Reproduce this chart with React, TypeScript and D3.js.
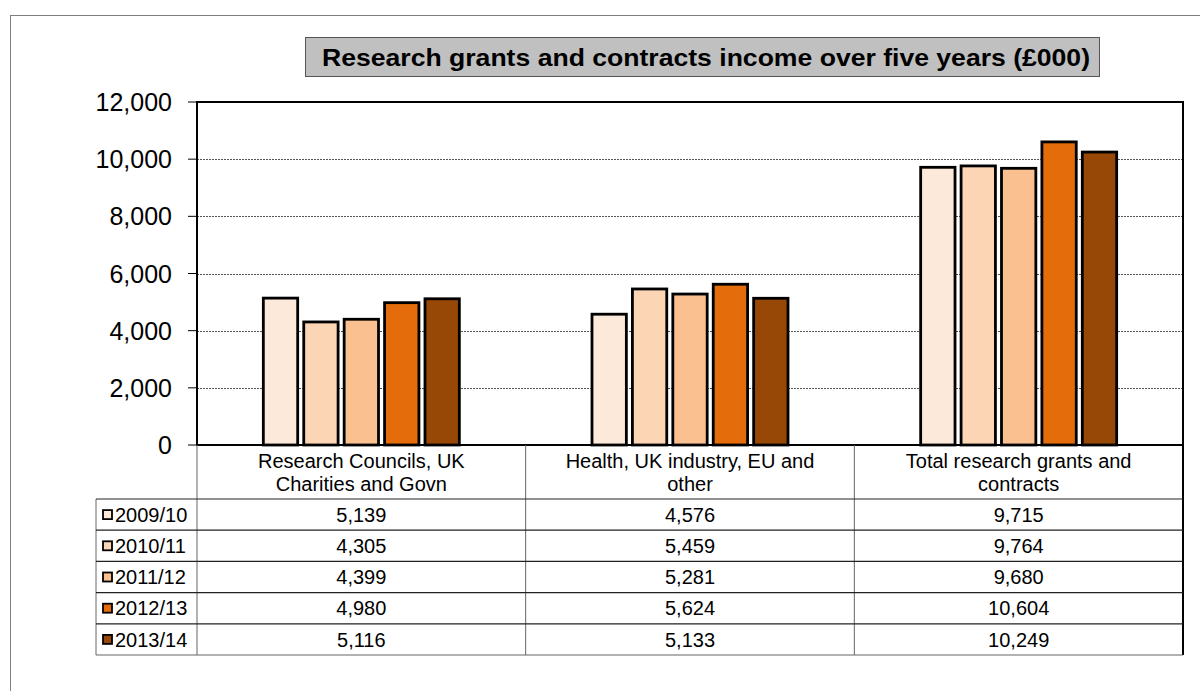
import React from "react";
import * as d3 from "d3";

const categories = [
  ["Research Councils, UK", "Charities and Govn"],
  ["Health, UK industry, EU and", "other"],
  ["Total research grants and", "contracts"],
];
const categoryKeys = ["rc", "health", "total"];
const seriesNames = ["2009/10", "2010/11", "2011/12", "2012/13", "2013/14"];
const seriesColors = ["#FDE9D9", "#FCD5B4", "#FAC090", "#E46C0A", "#974706"];
const values = [
  [5139, 4576, 9715],
  [4305, 5459, 9764],
  [4399, 5281, 9680],
  [4980, 5624, 10604],
  [5116, 5133, 10249],
];
const yTicks = [0, 2000, 4000, 6000, 8000, 10000, 12000];
const title = "Research grants and contracts income over five years (£000)";

const FONT = "'Liberation Sans', Arial, Helvetica, sans-serif";

export default function App() {
  const W = 1200, H = 691;
  const plotL = 197, plotR = 1183, plotT = 102, plotB = 445;
  const tableL = 96;
  const headerB = 499;
  const rowH = 31.2;

  const y = d3.scaleLinear().domain([0, 12000]).range([plotB, plotT]);
  const x = d3.scaleBand<string>().domain(categoryKeys).range([plotL, plotR]).padding(0);
  const fmt = d3.format(",");

  const groupW = 196;

  return (
    <div style={{ position: "absolute", left: 0, top: 0 }}>
      <svg width={W} height={H} style={{ display: "block", background: "#fff" }} fontFamily={FONT}>
        {/* outer frame */}
        <rect x={10.5} y={15.5} width={1200} height={700} fill="none" stroke="#7f7f7f" strokeWidth={1} />

        {/* title */}
        <rect x={305.5} y={37.5} width={794} height={39} fill="#C0C0C0" stroke="#555" strokeWidth={1} />
        <text x={706} y={66} textAnchor="middle" fontWeight="bold" fontSize={24}
          textLength={768} lengthAdjust="spacingAndGlyphs" fill="#000">{title}</text>

        {/* gridlines */}
        {yTicks.filter(t => t > 0 && t < 12000).map(t => (
          <line key={"g" + t} x1={plotL} x2={plotR} y1={Math.round(y(t)) + 0.5} y2={Math.round(y(t)) + 0.5}
            stroke="#555" strokeWidth={1} strokeDasharray="2,1" />
        ))}

        {/* bars */}
        {seriesNames.map((s, si) => (
          <g key={s}>
            {categoryKeys.map((c, ci) => {
              const cx = (x(c) as number) + x.bandwidth() / 2;
              const xs = d3.scaleBand<string>().domain(seriesNames)
                .range([cx - groupW / 2, cx + groupW / 2]).paddingInner(0.15).paddingOuter(0);
              const v = values[si][ci];
              return (
                <rect key={c} x={xs(s)} y={y(v)} width={xs.bandwidth()} height={y(0) - y(v)}
                  fill={seriesColors[si]} stroke="#000" strokeWidth={2.8} />
              );
            })}
          </g>
        ))}

        {/* plot border */}
        <rect x={plotL} y={plotT} width={plotR - plotL} height={plotB - plotT} fill="none" stroke="#000" strokeWidth={2} />

        {/* y ticks */}
        {yTicks.map(t => (
          <g key={"t" + t}>
            <line x1={188} x2={plotL} y1={y(t)} y2={y(t)} stroke="#000" strokeWidth={1} />
            <text x={172} y={y(t)} dy="0.36em" textAnchor="end" fontSize={25} fill="#000">{fmt(t)}</text>
          </g>
        ))}

        {/* data table */}
        {[...categoryKeys.map(c => x(c) as number), plotR].map((xx, i) => (
          <line key={"v" + i} x1={xx} x2={xx} y1={plotB} y2={headerB + rowH * 5}
            stroke={i === 3 ? "#000" : "#666"} strokeWidth={i === 3 ? 2 : 1} />
        ))}
        <line x1={tableL} x2={tableL} y1={headerB} y2={headerB + rowH * 5} stroke="#666" strokeWidth={1} />
        {d3.range(6).map(i => (
          <line key={"h" + i} x1={tableL} x2={plotR} y1={headerB + i * rowH} y2={headerB + i * rowH}
            stroke={i === 5 ? "#666" : "#222"} strokeWidth={1.2} />
        ))}
        {categories.map((lines, ci) => {
          const cx = (x(categoryKeys[ci]) as number) + x.bandwidth() / 2;
          return (
            <text key={"c" + ci} textAnchor="middle" fontSize={20} fill="#000">
              {lines.map((l, li) => (
                <tspan key={li} x={cx} y={468 + li * 23}>{l}</tspan>
              ))}
            </text>
          );
        })}
        {seriesNames.map((s, si) => {
          const rowMid = headerB + si * rowH + rowH / 2;
          return (
            <g key={"r" + s}>
              <rect x={103} y={rowMid - 4.5} width={9} height={9} fill={seriesColors[si]} stroke="#000" strokeWidth={1.8} />
              <text x={115} y={rowMid} dy="0.36em" fontSize={20} fill="#000">{s}</text>
              {categoryKeys.map((c, ci) => (
                <text key={c} x={(x(c) as number) + x.bandwidth() / 2} y={rowMid} dy="0.36em"
                  textAnchor="middle" fontSize={20} fill="#000">{fmt(values[si][ci])}</text>
              ))}
            </g>
          );
        })}
      </svg>
    </div>
  );
}
